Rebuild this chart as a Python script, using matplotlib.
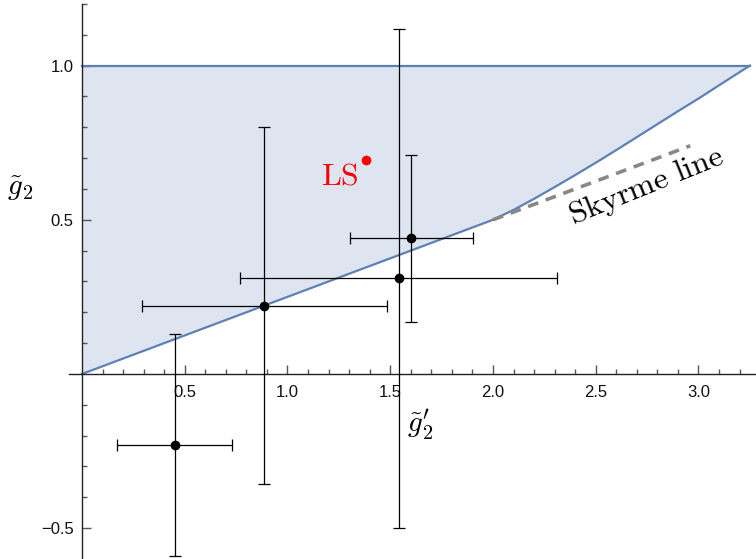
import numpy as np
import matplotlib.pyplot as plt

plt.rcParams['mathtext.fontset'] = 'cm'
plt.rcParams['font.family'] = 'Liberation Sans'

# allowed region: upper bound g2 = 1, lower boundary read along the edge
bound_x = [0.0, 2.0, 2.1, 2.2, 2.3, 2.4, 2.5, 2.6, 2.7, 2.8, 2.9, 3.0, 3.1, 3.25]
bound_y = [0.0, 0.5, 0.532, 0.568, 0.606, 0.645, 0.685, 0.726, 0.768, 0.81,
           0.852, 0.893, 0.936, 1.0]
upper_y = 1.0

# Skyrme line segment
skyrme_x = [2.0, 2.96]
skyrme_y = [0.5, 0.74]

# measurements with asymmetric errors
pts_x = [0.451, 0.886, 1.543, 1.602]
pts_y = [-0.23, 0.22, 0.31, 0.441]
x_lo = [0.170, 0.292, 0.769, 1.304]
x_hi = [0.728, 1.483, 2.311, 1.901]
y_lo = [-0.589, -0.358, -0.500, 0.170]
y_hi = [0.129, 0.800, 1.119, 0.711]

ls_x, ls_y = 1.381, 0.693

x_major = [0.5, 1.0, 1.5, 2.0, 2.5, 3.0]
y_major = [-0.5, 0.5, 1.0]
x_minor = [round(0.1 * i, 1) for i in range(1, 33)]
y_minor = [round(0.1 * i, 1) for i in range(-5, 13) if i != 0]

blue = '#5E81B5'

fig = plt.figure(figsize=(7.56, 5.59), dpi=100)
ax = fig.add_axes([0, 0, 1, 1])
ax.set_xlim(-0.399, 3.28)
ax.set_ylim(-0.600, 1.2127)

xx = np.linspace(0, bound_x[-1], 600)
lower = np.interp(xx, bound_x, bound_y)
ax.fill_between(xx, lower, upper_y, color=blue, alpha=0.2, lw=0, zorder=1)
ax.plot(bound_x, bound_y, color=blue, lw=1.6, zorder=2)
ax.plot([0, bound_x[-1]], [upper_y, upper_y], color=blue, lw=1.6, zorder=2)

ax.plot(skyrme_x, skyrme_y, color='#888888', lw=2.6, ls=(0, (3, 2.2)), zorder=2)

px = np.array(pts_x)
py = np.array(pts_y)
xerr = [px - np.array(x_lo), np.array(x_hi) - px]
yerr = [py - np.array(y_lo), np.array(y_hi) - py]
ax.errorbar(px, py, xerr=xerr, yerr=yerr, fmt='o', color='black', ms=6,
            elinewidth=0.9, capsize=4.5, capthick=0.9, zorder=3)

ax.plot([ls_x], [ls_y], 'o', color='red', ms=6, zorder=4)
ax.text(1.255, 0.64, r'$\mathrm{LS}$', color='red', fontsize=23,
        ha='center', va='center')
ax.text(2.745, 0.61, r'$\mathrm{Skyrme\ line}$', fontsize=23, rotation=22,
        rotation_mode='anchor', ha='center', va='center')

ax.text(-0.30, 0.60, r'$\tilde{g}_2$', fontsize=21, ha='center', va='center')
ax.text(1.645, -0.165, r"$\tilde{g}_2'$", fontsize=21, ha='center', va='center')

# axes crossing at the origin
for s in ['top', 'right']:
    ax.spines[s].set_visible(False)
ax.spines['left'].set_position(('data', 0))
ax.spines['bottom'].set_position(('data', 0))
ax.spines['left'].set_bounds(-0.6, 1.2)
ax.spines['bottom'].set_bounds(-0.063, 3.28)
for s in ['left', 'bottom']:
    ax.spines[s].set_color('#222222')
    ax.spines[s].set_linewidth(1.0)

ax.set_xticks(x_major)
ax.set_yticks(y_major)
ax.set_xticks(x_minor, minor=True)
ax.set_yticks(y_minor, minor=True)
ax.tick_params(which='both', direction='in', color='#555555', width=1.0,
               labelsize=12, labelcolor='#111111')
ax.tick_params(which='major', length=6.5)
ax.tick_params(which='minor', length=3.8)
ax.tick_params(axis='x', which='major', pad=8)
ax.tick_params(axis='y', which='major', pad=6)

fig.savefig('out.png', dpi=100)
